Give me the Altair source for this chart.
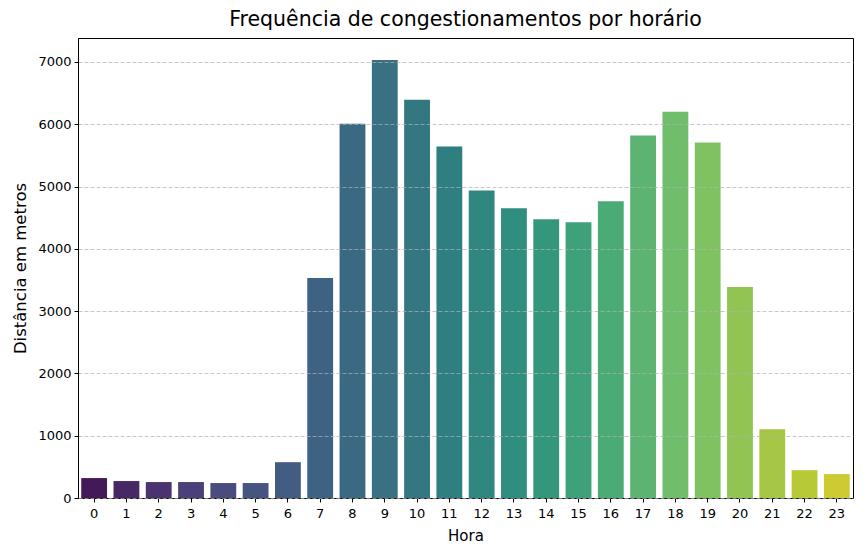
import altair as alt
import pandas as pd
import colorsys

horas = list(range(24))
distancia = [320, 272, 256, 256, 240, 240, 575, 3532, 6009, 7032, 6393, 5642,
             4938, 4651, 4475, 4427, 4763, 5817, 6201, 5706, 3388, 1103, 447, 384]

# viridis anchors (position, hex) used to build a 24-colour palette like seaborn
viridis_anchors = [
    (0.00, "#440154"), (0.05, "#471365"), (0.10, "#482475"), (0.15, "#463480"),
    (0.20, "#414487"), (0.25, "#3b528b"), (0.30, "#355f8d"), (0.35, "#2f6c8e"),
    (0.40, "#2a788e"), (0.45, "#25848e"), (0.50, "#21918c"), (0.55, "#1e9c89"),
    (0.60, "#22a884"), (0.65, "#2fb47c"), (0.70, "#44bf70"), (0.75, "#5ec962"),
    (0.80, "#7ad151"), (0.85, "#9bd93c"), (0.90, "#bddf26"), (0.95, "#dfe318"),
    (1.00, "#fde725"),
]


def hex2rgb(h):
    return tuple(int(h[i:i + 2], 16) / 255 for i in (1, 3, 5))


def viridis(t):
    for (p0, c0), (p1, c1) in zip(viridis_anchors[:-1], viridis_anchors[1:]):
        if p0 <= t <= p1:
            f = (t - p0) / (p1 - p0)
            a, b = hex2rgb(c0), hex2rgb(c1)
            return tuple(a[k] + (b[k] - a[k]) * f for k in range(3))
    return hex2rgb(viridis_anchors[-1][1])


def desaturate(rgb, prop=0.75):
    h, l, s = colorsys.rgb_to_hls(*rgb)
    r, g, b = colorsys.hls_to_rgb(h, l, s * prop)
    return "#%02x%02x%02x" % (round(r * 255), round(g * 255), round(b * 255))


n = len(horas)
palette = [desaturate(viridis((i + 1) / (n + 1))) for i in range(n)]

df = pd.DataFrame({"Hora": horas, "Distancia": distancia})

font = "DejaVu Sans"

chart = alt.Chart(df).mark_bar().encode(
    x=alt.X("Hora:O", title="Hora",
            scale=alt.Scale(paddingInner=0.2, paddingOuter=0.1),
            axis=alt.Axis(labelAngle=0, grid=False, tickSize=4, tickColor="black",
                          domainColor="black", labelColor="black", labelFontSize=13,
                          labelFont=font, titleFont=font, titleFontSize=15,
                          titleFontWeight="normal", titleColor="black",
                          labelPadding=5, titlePadding=8)),
    y=alt.Y("Distancia:Q", title="Distância em metros",
            scale=alt.Scale(domain=[0, 7384], nice=False),
            axis=alt.Axis(values=[0, 1000, 2000, 3000, 4000, 5000, 6000, 7000],
                          format="d",
                          grid=True, gridDash=[4, 2], gridColor="#b0b0b0",
                          gridOpacity=0.7, zindex=1, tickSize=4, tickColor="black",
                          domainColor="black", labelColor="black", labelFontSize=13,
                          labelFont=font, titleFont=font, titleFontSize=16.5,
                          titleFontWeight="normal", titleColor="black",
                          labelPadding=3, titlePadding=9)),
    color=alt.Color("Hora:O", scale=alt.Scale(domain=horas, range=palette), legend=None),
).properties(
    width=775,
    height=460,
    title=alt.TitleParams("Frequência de congestionamentos por horário", font=font,
                          fontSize=20.5, fontWeight="normal", color="black", offset=8),
    autosize=alt.AutoSizeParams(type="none"),
    padding={"left": 70, "top": 30, "right": 2, "bottom": 50},
).configure_view(
    stroke="black", strokeWidth=1
)

chart.save("out.html", embed_options={"renderer": "svg", "actions": False})
